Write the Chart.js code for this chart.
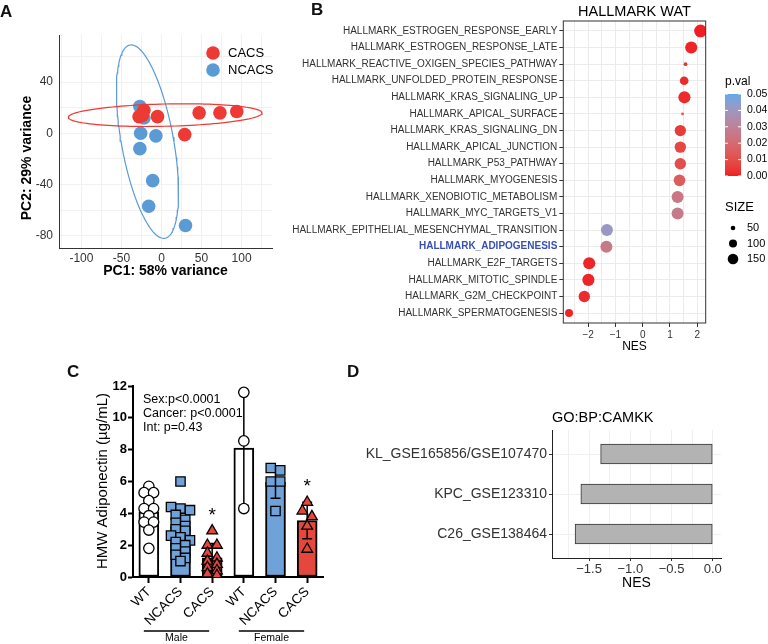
<!DOCTYPE html>
<html>
<head>
<meta charset="utf-8">
<title>WAT figure</title>
<script src="https://cdn.jsdelivr.net/npm/chart.js@4.4.1/dist/chart.umd.min.js"></script>
<style>
  html, body { margin: 0; padding: 0; background: #fff; }
  body { position: relative; width: 768px; height: 644px; overflow: hidden; font-family: "Liberation Sans", Arial, Helvetica, sans-serif; }
  canvas { position: absolute; }
  .tag { position: absolute; font-size: 17px; line-height: 17px; font-weight: bold; color: #111; }
</style>
</head>
<body>
<canvas id="pcaChart" width="290" height="290" style="left:0;top:0"></canvas>
<canvas id="gseaChart" width="518" height="360" style="left:250px;top:0"></canvas>
<canvas id="adipoChart" width="340" height="324" style="left:0;top:320px"></canvas>
<canvas id="camkkChart" width="428" height="264" style="left:340px;top:380px"></canvas>
<div class="tag" style="left:0;top:3px">A</div>
<div class="tag" style="left:311px;top:1px">B</div>
<div class="tag" style="left:67px;top:363px">C</div>
<div class="tag" style="left:347px;top:363px">D</div>
<script>
// ---- A: PCA ----
const cacsPC1 = [-22, -28, -24, -5, 29, 47, 73, 94];
const cacsPC2 = [18, 13, 14, 13, -1, 16, 16, 17];
const ncacsPC1 = [-27, -22, -26, -7, -27, -11, -16, 30];
const ncacsPC2 = [21, 12, 0, -2, -12, -37, -57, -72];
// ellipse: centre x, centre y, semi-axis 1 (dx, dy), semi-axis 2 (dx, dy)
const cacsEllipse = [4.6, 14.2, 121, 1.7, 0, 8.7];
const ncacsEllipse = [-17.5, -6.5, -21.9, 75.5, 32, 3.6];
const pcaXTicks = [-100, -50, 0, 50, 100];
const pcaXGrid = [-125, -100, -75, -50, -25, 0, 25, 50, 75, 100, 125];
const pcaYTicks = [-80, -40, 0, 40];
const pcaYGrid = [-80, -60, -40, -20, 0, 20, 40, 60];

// ---- B: hallmark GSEA ----
const hallmarkSets = ['HALLMARK_ESTROGEN_RESPONSE_EARLY', 'HALLMARK_ESTROGEN_RESPONSE_LATE',
  'HALLMARK_REACTIVE_OXIGEN_SPECIES_PATHWAY', 'HALLMARK_UNFOLDED_PROTEIN_RESPONSE',
  'HALLMARK_KRAS_SIGNALING_UP', 'HALLMARK_APICAL_SURFACE', 'HALLMARK_KRAS_SIGNALING_DN',
  'HALLMARK_APICAL_JUNCTION', 'HALLMARK_P53_PATHWAY', 'HALLMARK_MYOGENESIS',
  'HALLMARK_XENOBIOTIC_METABOLISM', 'HALLMARK_MYC_TARGETS_V1',
  'HALLMARK_EPITHELIAL_MESENCHYMAL_TRANSITION', 'HALLMARK_ADIPOGENESIS', 'HALLMARK_E2F_TARGETS',
  'HALLMARK_MITOTIC_SPINDLE', 'HALLMARK_G2M_CHECKPOINT', 'HALLMARK_SPERMATOGENESIS'];
const hallmarkNES = [2.12, 1.78, 1.57, 1.52, 1.53, 1.46, 1.38, 1.38, 1.38, 1.35, 1.28, 1.28,
  -1.31, -1.33, -1.96, -1.99, -2.14, -2.70];
const hallmarkSize = [198, 185, 40, 112, 185, 30, 165, 168, 168, 175, 182, 182, 182, 182, 185, 185, 168, 100];
const hallmarkPval = [0.000, 0.001, 0.003, 0.002, 0.002, 0.012, 0.005, 0.008, 0.010, 0.015, 0.025, 0.027,
  0.041, 0.026, 0.001, 0.001, 0.002, 0.001];
const highlightSet = 'HALLMARK_ADIPOGENESIS';
const nesTicks = [-2, -1, 0, 1, 2];
const nesGrid = [-2.5, -2, -1.5, -1, -0.5, 0, 0.5, 1, 1.5, 2];
const pvalBreaks = [0, 0.01, 0.02, 0.03, 0.04, 0.05];
const sizeBreaks = [50, 100, 150];

// ---- C: HMW adiponectin ----
const adipoGroups = ['WT', 'NCACS', 'CACS', 'WT', 'NCACS', 'CACS'];
const adipoMean = [4.1, 3.15, 1.2, 8.1, 5.95, 3.55];
const adipoSD = [1.15, 1.35, 0.9, 3.6, 1.0, 1.15];
const adipoPoints = [
  [5.7, 5.3, 5.3, 4.8, 4.3, 4.3, 3.85, 3.45, 3.45, 2.95, 1.8],
  [6.0, 4.4, 4.3, 4.2, 3.9, 3.6, 3.4, 3.2, 3.0, 2.9, 2.6, 2.5, 2.3, 2.2, 2.0, 1.8, 1.6, 1.4, 1.2, 1.0],
  [2.9, 2.0, 2.0, 1.5, 1.2, 1.0, 0.8, 0.6, 0.4, 0.2, 0.1],
  [11.6, 8.55, 4.3],
  [6.85, 6.7, 6.0, 6.0, 4.15],
  [4.7, 4.15, 3.8, 3.2, 1.75]
];
const adipoSig = [false, false, true, false, false, true];
const adipoTicks = [0, 2, 4, 6, 8, 10, 12];
const sexGroups = ['Male', 'Female'];
const statsText = ['Sex:p<0.0001', 'Cancer: p<0.0001', 'Int: p=0.43'];

// ---- D: GO:BP:CAMKK ----
const camkkSets = ['KL_GSE165856/GSE107470', 'KPC_GSE123310', 'C26_GSE138464'];
const camkkNES = [-1.36, -1.60, -1.67];
const camkkTicks = [-1.5, -1.0, -0.5, 0];
const camkkGrid = [-1.75, -1.5, -1.25, -1.0, -0.75, -0.5, -0.25, 0];

// ---- common ----
const FONT = '"Liberation Sans", Arial, Helvetica, sans-serif';
Chart.defaults.font.family = FONT;
Chart.defaults.animation = false;
Chart.defaults.events = [];
Chart.defaults.plugins.legend.display = false;
Chart.defaults.plugins.tooltip.enabled = false;

const RED = '#ee3a34';
const BLUE = '#5b9bd5';

function label(ctx, text, x, y, size, opts = {}) {
  ctx.save();
  ctx.font = (opts.weight || 'normal') + ' ' + size + 'px ' + FONT;
  ctx.fillStyle = opts.color || '#000';
  ctx.textAlign = opts.align || 'left';
  ctx.textBaseline = opts.baseline || 'middle';
  ctx.translate(x, y);
  if (opts.rotate) ctx.rotate(opts.rotate);
  ctx.fillText(text, 0, 0);
  ctx.restore();
}
function fixedTicks(values) {
  return scale => { scale.ticks = values.map(v => ({ value: v })); };
}
const minus = v => (v < 0 ? '\u2212' : '') + Math.abs(v);
const zip = (xs, ys) => xs.map((x, i) => ({ x: x, y: ys[i] }));

function ellipsePath(e) {
  const pts = [];
  for (let i = 0; i <= 120; i++) {
    const t = i / 120 * 2 * Math.PI;
    pts.push({ x: e[0] + e[2] * Math.cos(t) + e[4] * Math.sin(t),
               y: e[1] + e[3] * Math.cos(t) + e[5] * Math.sin(t) });
  }
  return pts;
}

// ===== Panel A =====
new Chart(document.getElementById('pcaChart'), {
  type: 'scatter',
  data: {
    datasets: [
      { data: ellipsePath(cacsEllipse), showLine: true, borderColor: RED, borderWidth: 1.2, pointRadius: 0, order: 0 },
      { data: ellipsePath(ncacsEllipse), showLine: true, borderColor: BLUE, borderWidth: 1.2, pointRadius: 0, order: 0 },
      { data: zip(cacsPC1, cacsPC2), pointBackgroundColor: RED, pointBorderColor: RED, pointBorderWidth: 0, pointRadius: 6.8, order: 1 },
      { data: zip(ncacsPC1, ncacsPC2), pointBackgroundColor: BLUE, pointBorderColor: BLUE, pointBorderWidth: 0, pointRadius: 6.8, order: 2 }
    ]
  },
  options: {
    responsive: false,
    layout: { padding: { top: 35, right: 18, bottom: 0, left: 0 } },
    scales: {
      x: {
        type: 'linear', min: -128, max: 138,
        afterFit: s => { s.height = 42; },
        afterBuildTicks: fixedTicks(pcaXGrid),
        ticks: { autoSkip: false, maxRotation: 0, padding: 3, color: '#333', font: { size: 12 },
                 callback: v => pcaXTicks.includes(v) ? String(v) : '' },
        grid: { color: '#f1f1f1', drawTicks: false },
        border: { color: '#333', width: 1 }
      },
      y: {
        type: 'linear', min: -89.6, max: 76.8,
        afterFit: s => { s.width = 59; },
        afterBuildTicks: fixedTicks(pcaYGrid),
        ticks: { autoSkip: false, padding: 6, color: '#333', font: { size: 12 },
                 callback: v => pcaYTicks.includes(v) ? String(v) : '' },
        grid: { color: '#f1f1f1', drawTicks: false },
        border: { color: '#333', width: 1 }
      }
    }
  },
  plugins: [{
    id: 'pcaText',
    afterDraw(chart) {
      const ctx = chart.ctx;
      label(ctx, 'PC2: 29% variance', 27, 158, 14, { weight: 'bold', align: 'center', rotate: -Math.PI / 2 });
      label(ctx, 'PC1: 58% variance', 165.5, 271, 14, { weight: 'bold', align: 'center' });
      [['CACS', RED, 53], ['NCACS', BLUE, 70]].forEach(([name, col, y]) => {
        ctx.save();
        ctx.fillStyle = col;
        ctx.beginPath(); ctx.arc(213, y, 6.8, 0, 2 * Math.PI); ctx.fill();
        ctx.restore();
        label(ctx, name, 228, y, 13);
      });
    }
  }]
});

// ===== Panel B =====
function toLab(rgb) {
  const lin = rgb.map(v => { v /= 255; return v > 0.04045 ? Math.pow((v + 0.055) / 1.055, 2.4) : v / 12.92; });
  const X = (lin[0] * 0.4124 + lin[1] * 0.3576 + lin[2] * 0.1805) / 0.95047;
  const Y = lin[0] * 0.2126 + lin[1] * 0.7152 + lin[2] * 0.0722;
  const Z = (lin[0] * 0.0193 + lin[1] * 0.1192 + lin[2] * 0.9505) / 1.08883;
  const f = t => t > 0.008856 ? Math.cbrt(t) : 7.787 * t + 16 / 116;
  return [116 * f(Y) - 16, 500 * (f(X) - f(Y)), 200 * (f(Y) - f(Z))];
}
function fromLab(lab) {
  const fy = (lab[0] + 16) / 116, fx = fy + lab[1] / 500, fz = fy - lab[2] / 200;
  const g = t => t * t * t > 0.008856 ? t * t * t : (t - 16 / 116) / 7.787;
  const X = g(fx) * 0.95047, Y = g(fy), Z = g(fz) * 1.08883;
  const lin = [X * 3.2406 - Y * 1.5372 - Z * 0.4986, -X * 0.9689 + Y * 1.8758 + Z * 0.0415, X * 0.0557 - Y * 0.2040 + Z * 1.0570];
  return lin.map(v => {
    v = Math.max(0, v);
    v = v <= 0.0031308 ? 12.92 * v : 1.055 * Math.pow(v, 1 / 2.4) - 0.055;
    return Math.round(Math.min(1, v) * 255);
  });
}
const lowLab = toLab([238, 30, 36]);
const highLab = toLab([98, 170, 232]);
function pvalColor(p) {
  const t = Math.min(1, Math.max(0, p / pvalBreaks[pvalBreaks.length - 1]));
  const c = fromLab(lowLab.map((v, i) => v + (highLab[i] - v) * t));
  return 'rgb(' + c.join(',') + ')';
}
const sizeRadius = s => Math.max(1, (1.15 * Math.sqrt(s) - 3.5) / 2);

new Chart(document.getElementById('gseaChart'), {
  type: 'scatter',
  data: {
    datasets: [{
      data: zip(hallmarkNES, hallmarkSets.map((_, i) => i)),
      pointRadius: c => sizeRadius(hallmarkSize[c.dataIndex || 0]),
      pointBackgroundColor: c => pvalColor(hallmarkPval[c.dataIndex || 0]),
      pointBorderColor: c => pvalColor(hallmarkPval[c.dataIndex || 0]),
      pointBorderWidth: 0
    }]
  },
  options: {
    responsive: false,
    layout: { padding: { top: 21, right: 62.3, bottom: 0, left: 0 } },
    scales: {
      x: {
        type: 'linear', min: -2.91, max: 2.31,
        afterFit: s => { s.height = 37; },
        afterBuildTicks: fixedTicks(nesGrid),
        ticks: { autoSkip: false, maxRotation: 0, padding: 2, color: '#333', font: { size: 10 },
                 callback: v => nesTicks.includes(v) ? minus(v) : '' },
        grid: { color: '#ebebeb', tickLength: 4,
                tickColor: c => (c.tick && nesTicks.includes(c.tick.value)) ? '#333' : 'rgba(0,0,0,0)' },
        border: { display: false }
      },
      y: {
        type: 'linear', reverse: true, min: -0.6, max: 17.6,
        afterFit: s => { s.width = 313.3; },
        afterBuildTicks: fixedTicks(hallmarkSets.map((_, i) => i)),
        ticks: {
          autoSkip: false, padding: 2,
          color: c => (c.tick && hallmarkSets[c.tick.value] === highlightSet) ? '#3a4fb5' : '#333',
          font: c => ({ size: 10, weight: (c.tick && hallmarkSets[c.tick.value] === highlightSet) ? 'bold' : 'normal' }),
          callback: v => hallmarkSets[v]
        },
        grid: { color: '#ebebeb', tickLength: 4, tickColor: '#333' },
        border: { display: false }
      }
    }
  },
  plugins: [{
    id: 'gseaText',
    afterDraw(chart) {
      const ctx = chart.ctx, a = chart.chartArea;
      const cx = (a.left + a.right) / 2;
      ctx.save();
      ctx.strokeStyle = '#333'; ctx.lineWidth = 1;
      ctx.strokeRect(a.left, a.top, a.right - a.left, a.bottom - a.top);
      ctx.restore();
      label(ctx, 'HALLMARK WAT', cx, 12, 14.5, { align: 'center' });
      label(ctx, 'NES', cx, 347, 12, { align: 'center' });

      // colour bar
      const top = 94, bot = 176, lx = 475, w = 16;
      const pmax = pvalBreaks[pvalBreaks.length - 1];
      const grad = ctx.createLinearGradient(0, bot, 0, top);
      for (let k = 0; k <= 20; k++) grad.addColorStop(k / 20, pvalColor(pmax * k / 20));
      ctx.save();
      ctx.fillStyle = grad;
      ctx.fillRect(lx, top, w, bot - top);
      ctx.strokeStyle = '#fff'; ctx.lineWidth = 1;
      pvalBreaks.forEach(p => {
        const y = bot - (bot - top) * p / pmax;
        ctx.beginPath();
        ctx.moveTo(lx, y); ctx.lineTo(lx + 3, y);
        ctx.moveTo(lx + w - 3, y); ctx.lineTo(lx + w, y);
        ctx.stroke();
        label(ctx, p.toFixed(2), lx + 22, y, 10.5);
      });
      ctx.restore();
      label(ctx, 'p.val', lx, 82, 12);

      // size legend
      label(ctx, 'SIZE', lx, 207, 13);
      sizeBreaks.forEach((s, k) => {
        const y = 228 + k * 15.5;
        ctx.save();
        ctx.fillStyle = '#000';
        ctx.beginPath(); ctx.arc(lx + 8, y, sizeRadius(s), 0, 2 * Math.PI); ctx.fill();
        ctx.restore();
        label(ctx, String(s), lx + 22, y, 11);
      });
    }
  }]
});

// ===== Panel C =====
const adipoFill = ['#ffffff', '#6fa2d9', '#e5473d', '#ffffff', '#6fa2d9', '#e5473d'];
const adipoMarker = ['circle', 'rect', 'triangle', 'circle', 'rect', 'triangle'];
const markerRadius = { circle: 5.2, rect: 6.6, triangle: 6.2 };

// spread points of similar value side by side, like a column scatter
function swarm(values, centre) {
  const sorted = values.slice().sort((a, b) => b - a);
  const out = [];
  let row = [];
  const flush = () => {
    row.forEach((v, k) => out.push({ x: centre + (k - (row.length - 1) / 2) * 0.3, y: v }));
    row = [];
  };
  sorted.forEach(v => {
    if (row.length && (row[0] - v > 0.38 || row.length === 3)) flush();
    row.push(v);
  });
  flush();
  return out;
}

const adipoDatasets = [{
  type: 'bar',
  data: adipoMean.map((m, i) => ({ x: i, y: m })),
  backgroundColor: adipoFill,
  borderColor: '#000',
  borderWidth: 2,
  borderSkipped: false,
  barThickness: 20,
  order: 10
}];
adipoPoints.forEach((vals, g) => {
  adipoDatasets.push({
    type: 'scatter',
    data: swarm(vals, g),
    pointStyle: adipoMarker[g],
    pointRadius: markerRadius[adipoMarker[g]],
    pointBackgroundColor: adipoFill[g],
    pointBorderColor: '#000',
    pointBorderWidth: 1.3,
    order: 1
  });
});

new Chart(document.getElementById('adipoChart'), {
  type: 'bar',
  data: { datasets: adipoDatasets },
  options: {
    responsive: false,
    layout: { padding: { top: 66, right: 17, bottom: 0, left: 0 } },
    scales: {
      x: {
        type: 'linear', min: -0.5, max: 5.5, offset: false,
        afterFit: s => { s.height = 67; },
        afterBuildTicks: fixedTicks(adipoGroups.map((_, i) => i)),
        ticks: { autoSkip: false, minRotation: 45, maxRotation: 45, padding: 1, color: '#000', font: { size: 13.5 },
                 callback: v => adipoGroups[v] },
        grid: { drawOnChartArea: false, offset: false, tickLength: 6, tickColor: '#000', tickWidth: 2 },
        border: { color: '#000', width: 2 }
      },
      y: {
        type: 'linear', min: 0, max: 12,
        afterFit: s => { s.width = 133; },
        afterBuildTicks: fixedTicks(adipoTicks),
        ticks: { autoSkip: false, padding: 1, color: '#000', font: { size: 13, weight: 'bold' } },
        grid: { drawOnChartArea: false, tickLength: 5, tickColor: '#000', tickWidth: 2 },
        border: { color: '#000', width: 2 }
      }
    }
  },
  plugins: [{
    id: 'adipoExtras',
    afterDatasetDraw(chart, args) {
      if (args.index !== 0) return;
      const ctx = chart.ctx, x = chart.scales.x, y = chart.scales.y;
      ctx.save();
      ctx.strokeStyle = '#000'; ctx.lineWidth = 1.5;
      adipoMean.forEach((m, i) => {
        const px = x.getPixelForValue(i);
        const hi = y.getPixelForValue(m + adipoSD[i]);
        const lo = y.getPixelForValue(Math.max(0, m - adipoSD[i]));
        ctx.beginPath();
        ctx.moveTo(px, hi); ctx.lineTo(px, lo);
        ctx.moveTo(px - 5, hi); ctx.lineTo(px + 5, hi);
        ctx.moveTo(px - 5, lo); ctx.lineTo(px + 5, lo);
        ctx.stroke();
      });
      ctx.restore();
    },
    afterDraw(chart) {
      const ctx = chart.ctx, x = chart.scales.x, y = chart.scales.y;
      label(ctx, 'HMW Adiponectin (\u00b5g/mL)', 103, 161, 15, { align: 'center', rotate: -Math.PI / 2 });
      statsText.forEach((s, k) => label(ctx, s, 143, 80 + k * 13.6, 12.5));
      adipoSig.forEach((sig, i) => {
        if (!sig) return;
        const top = Math.max.apply(null, adipoPoints[i]) + 1.2;
        label(ctx, '*', x.getPixelForValue(i), y.getPixelForValue(top) + 9, 19, { align: 'center', baseline: 'alphabetic' });
      });
      sexGroups.forEach((name, k) => {
        const x0 = x.getPixelForValue(k * 3) - 5, x1 = x.getPixelForValue(k * 3 + 2) - 3;
        ctx.save();
        ctx.strokeStyle = '#000'; ctx.lineWidth = 1.5;
        ctx.beginPath(); ctx.moveTo(x0, 311); ctx.lineTo(x1, 311); ctx.stroke();
        ctx.restore();
        label(ctx, name, (x0 + x1) / 2, 318, 10.5, { align: 'center' });
      });
    }
  }]
});

// ===== Panel D =====
const camkkLabel = v => v === 0 ? '0.0' : '\u2212' + Math.abs(v).toFixed(1);
new Chart(document.getElementById('camkkChart'), {
  type: 'bar',
  data: {
    datasets: [{
      data: zip(camkkNES, camkkSets.map((_, i) => i)),
      backgroundColor: '#b3b3b3',
      borderColor: '#333',
      borderWidth: 1,
      borderSkipped: false,
      barThickness: 20
    }]
  },
  options: {
    indexAxis: 'y',
    responsive: false,
    layout: { padding: { top: 50, right: 47, bottom: 0, left: 0 } },
    scales: {
      x: {
        type: 'linear', min: -1.95, max: 0.1,
        afterFit: s => { s.height = 86; },
        afterBuildTicks: fixedTicks(camkkGrid),
        ticks: { autoSkip: false, maxRotation: 0, padding: 1, color: '#333', font: { size: 13 },
                 callback: v => camkkTicks.includes(v) ? camkkLabel(v) : '' },
        grid: { color: '#f0f0f0', tickLength: 3,
                tickColor: c => (c.tick && camkkTicks.includes(c.tick.value)) ? '#333' : 'rgba(0,0,0,0)' },
        border: { color: '#222', width: 1 }
      },
      y: {
        type: 'linear', reverse: true, min: -0.6, max: 2.6, offset: false,
        afterFit: s => { s.width = 212; },
        afterBuildTicks: fixedTicks(camkkSets.map((_, i) => i)),
        ticks: { autoSkip: false, padding: 2, color: '#333', font: { size: 14 },
                 callback: v => camkkSets[v] },
        grid: { color: '#f0f0f0', offset: false, tickLength: 3, tickColor: '#333' },
        border: { color: '#222', width: 1 }
      }
    }
  },
  plugins: [{
    id: 'camkkText',
    afterDraw(chart) {
      const ctx = chart.ctx, a = chart.chartArea;
      label(ctx, 'GO:BP:CAMKK', a.left, 38, 14.5);
      label(ctx, 'NES', (a.left + a.right) / 2, 203, 14, { align: 'center' });
    }
  }]
});
</script>
</body>
</html>
